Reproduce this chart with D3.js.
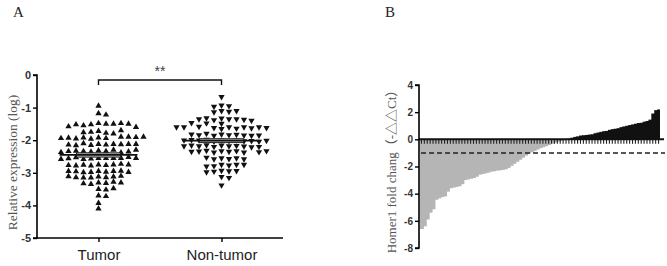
<!DOCTYPE html>
<html>
<head>
<meta charset="utf-8">
<script src="https://cdn.jsdelivr.net/npm/d3@7"></script>
<style>
body { margin: 0; background: #fff; }
</style>
</head>
<body>
<svg id="chart" width="667" height="266"></svg>
<script>
// ---- data ----
const groups = ["Tumor", "Non-tumor"];
const yTicksA = [0, -1, -2, -3, -4, -5];

const tumorValues = [
    -0.95,
    -1.18, -1.22,
    -1.48, -1.5, -1.52, -1.5, -1.55, -1.48, -1.52, -1.5, -1.58, -1.6,
    -1.72, -1.78, -1.75, -1.8, -1.76, -1.7,
    -1.92, -1.94, -1.9, -1.96, -1.92, -1.95, -1.9, -1.93, -1.91, -1.94, -1.9,
    -2.12, -2.14, -2.15, -2.12, -2.1, -2.13, -2.16, -2.12, -2.14, -2.12,
    -2.32, -2.34, -2.36, -2.3, -2.34, -2.38, -2.33, -2.35, -2.34, -2.3, -2.37,
    -2.55, -2.55, -2.57, -2.55, -2.58, -2.53, -2.55, -2.52, -2.56, -2.55, -2.58,
    -2.75, -2.77, -2.78, -2.75, -2.76, -2.73, -2.78, -2.75, -2.77,
    -2.95, -2.97, -2.98, -2.95, -2.99, -2.94, -2.96, -2.98, -2.95,
    -3.12, -3.14, -3.1, -3.15, -3.12, -3.14, -3.11, -3.15,
    -3.3, -3.32, -3.35, -3.28, -3.3, -3.33,
    -3.5, -3.52, -3.48,
    -3.7, -3.72,
    -3.93,
    -4.1
];

const nonTumorValues = [
    -0.67,
    -0.93, -0.95, -0.97,
    -1.1, -1.12, -1.14, -1.1,
    -1.33, -1.35, -1.38, -1.35, -1.32, -1.37, -1.35, -1.4,
    -1.48, -1.47, -1.49,
    -1.6, -1.62, -1.64, -1.6, -1.58, -1.63, -1.6, -1.65, -1.6, -1.62, -1.6,
    -1.82, -1.84, -1.86, -1.83, -1.8, -1.85, -1.84, -1.86, -1.82, -1.85,
    -2.0, -2.02, -2.04, -2.0, -1.98, -2.03, -2.0, -2.02, -1.99, -2.0, -2.04, -2.01,
    -2.16, -2.18, -2.2, -2.17, -2.15, -2.19, -2.18, -2.21, -2.16, -2.18, -2.2,
    -2.33, -2.35, -2.37, -2.33, -2.32, -2.37, -2.34, -2.35, -2.33, -2.36,
    -2.55, -2.57, -2.58, -2.55, -2.53, -2.58,
    -2.75, -2.77, -2.79, -2.75, -2.8, -2.75,
    -2.93, -2.95, -2.96, -2.94, -2.98,
    -3.12, -3.15,
    -3.38
];

const yTicksB = [4, 2, 0, -2, -4, -6, -8];
const cutoffB = -1;
const foldNegative = [
    -6.6, -6.4, -5.9, -5.4, -5.15, -4.45, -4.35, -4.25, -4.2, -3.85,
    -3.6, -3.55, -3.5, -3.45, -3.3, -3.0, -2.95, -2.9, -2.85, -2.75,
    -2.6, -2.55, -2.5, -2.45, -2.38, -2.35, -2.3, -2.28, -2.25, -2.2,
    -2.1, -1.95, -1.8, -1.65, -1.5, -1.35, -1.2, -1.05, -0.95, -0.85,
    -0.75, -0.65, -0.58, -0.5, -0.42, -0.32, -0.25, -0.18, -0.12, -0.06,
    -0.02
];
const foldPositive = [
    0.05, 0.12, 0.18, 0.22, 0.28, 0.3, 0.32, 0.35, 0.37, 0.45,
    0.5, 0.55, 0.6, 0.62, 0.7, 0.75, 0.78, 0.82, 0.9, 0.95,
    1.0, 1.05, 1.1, 1.15, 1.2, 1.22, 1.3, 1.35, 1.45, 1.9,
    2.15, 2.2
];

const svg = d3.select("#chart");
const tickFont = "Liberation Sans, Arial, sans-serif";
const serifFont = "Liberation Serif, Times New Roman, serif";

// ---- panel A ----
const dimA = { left: 37, right: 283, top: 75, bottom: 238 };

const xA = d3.scalePoint()
    .domain(groups)
    .range([dimA.left, dimA.right])
    .padding(0.5);

const yA = d3.scaleLinear()
    .domain([-5, 0])
    .range([dimA.bottom, dimA.top]);

const gA = svg.append("g");

gA.append("text")
    .attr("x", 13).attr("y", 17)
    .attr("font-family", serifFont).attr("font-size", 15)
    .attr("fill", "#222")
    .text("A");

const axisLeftA = gA.append("g")
    .attr("transform", `translate(${dimA.left},0)`)
    .call(d3.axisLeft(yA).tickValues(yTicksA).tickSize(4).tickPadding(2).tickFormat(d => String(d)));
axisLeftA.select(".domain").attr("stroke-width", 1.6).attr("d", `M-4,${dimA.top}H0V${dimA.bottom}H-4`);
axisLeftA.selectAll("text")
    .attr("font-family", tickFont).attr("font-size", 11).attr("font-weight", "bold").attr("fill", "#333");
axisLeftA.selectAll("line").attr("stroke-width", 1.4);

const axisBottomA = gA.append("g")
    .attr("transform", `translate(0,${dimA.bottom})`)
    .call(d3.axisBottom(xA).tickSize(4).tickPadding(7));
axisBottomA.select(".domain").attr("stroke-width", 1.6).attr("d", `M${dimA.left},0H${dimA.right}`);
axisBottomA.selectAll("text")
    .attr("font-family", tickFont).attr("font-size", 15).attr("fill", "#222");
axisBottomA.selectAll("line").attr("stroke-width", 1.4);

gA.append("text")
    .attr("transform", `translate(17,${(dimA.top + dimA.bottom) / 2 + 6}) rotate(-90)`)
    .attr("text-anchor", "middle")
    .attr("font-family", serifFont).attr("font-size", 13.5)
    .attr("fill", "#555")
    .text("Relative expression (log)");

// beeswarm: each point goes to the nearest free slot around the group centre
function swarm(values, cx) {
    const placed = [];
    const w = 7, h = 5.0, step = 3.75;
    values.forEach(v => {
        const y = yA(v);
        for (let k = 0; k < 200; k++) {
            const off = (k % 2 ? 1 : -1) * Math.ceil(k / 2) * step;
            const x = cx + off;
            const hit = placed.some(p => Math.abs(p.x - x) < w && Math.abs(p.y - y) < h);
            if (!hit) { placed.push({ x, y, v }); break; }
        }
    });
    return placed;
}

const sets = [
    { name: "Tumor", values: tumorValues, rot: 0 },
    { name: "Non-tumor", values: nonTumorValues, rot: 180 }
];

const tri = d3.symbol(d3.symbolTriangle, 17);

sets.forEach(s => {
    const cx = xA(s.name);
    const pts = swarm(s.values, cx);
    gA.append("g").selectAll("path")
        .data(pts)
        .join("path")
        .attr("d", tri)
        .attr("transform", d => `translate(${d.x},${d.y}) rotate(${s.rot})`)
        .attr("fill", "#111");

    const mean = d3.mean(s.values);
    const sem = d3.deviation(s.values) / Math.sqrt(s.values.length);
    gA.append("rect")
        .attr("x", cx - 22).attr("width", 44)
        .attr("y", yA(mean + sem)).attr("height", yA(mean - sem) - yA(mean + sem))
        .attr("fill", "#bbb").attr("stroke", "#222").attr("stroke-width", 1);
    gA.append("line")
        .attr("x1", cx - 39).attr("x2", cx + 39)
        .attr("y1", yA(mean)).attr("y2", yA(mean))
        .attr("stroke", "#111").attr("stroke-width", 1.8);
});

// significance bracket
const bracketY = 80;
gA.append("path")
    .attr("d", `M${xA("Tumor")},${bracketY + 5}V${bracketY}H${xA("Non-tumor")}V${bracketY + 5}`)
    .attr("fill", "none").attr("stroke", "#111").attr("stroke-width", 1.4);
gA.append("text")
    .attr("x", (xA("Tumor") + xA("Non-tumor")) / 2).attr("y", 76)
    .attr("text-anchor", "middle")
    .attr("font-family", tickFont).attr("font-size", 14)
    .attr("fill", "#444")
    .text("**");

// ---- panel B ----
const dimB = { left: 419, right: 664, top: 85, bottom: 248 };
const foldValues = foldNegative.concat(foldPositive);

const xB = d3.scaleBand()
    .domain(d3.range(foldValues.length))
    .range([dimB.left + 1, 660])
    .padding(0);

const yB = d3.scaleLinear()
    .domain([-8, 4])
    .range([dimB.bottom, dimB.top]);

const gB = svg.append("g");

gB.append("text")
    .attr("x", 385).attr("y", 17)
    .attr("font-family", serifFont).attr("font-size", 15)
    .attr("fill", "#222")
    .text("B");

// bars overlap a little so no hairline gaps show between neighbours
gB.append("g").selectAll("rect")
    .data(foldValues)
    .join("rect")
    .attr("x", (d, i) => xB(i))
    .attr("width", (d, i) => i === foldValues.length - 1 ? xB.bandwidth() : xB.bandwidth() + 1)
    .attr("y", d => Math.min(yB(d), yB(0)))
    .attr("height", d => Math.abs(yB(d) - yB(0)))
    .attr("fill", d => d < 0 ? "#b5b5b5" : "#111");

// small ticks under the zero line, one per sample
gB.append("g").selectAll("line")
    .data(foldValues)
    .join("line")
    .attr("x1", (d, i) => xB(i) + xB.bandwidth() / 2)
    .attr("x2", (d, i) => xB(i) + xB.bandwidth() / 2)
    .attr("y1", yB(0)).attr("y2", yB(0) + 4.5)
    .attr("stroke", "#222").attr("stroke-width", 1.1);

gB.append("line")
    .attr("x1", dimB.left + 2).attr("x2", dimB.right + 1)
    .attr("y1", yB(cutoffB)).attr("y2", yB(cutoffB))
    .attr("stroke", "#222").attr("stroke-width", 1.5)
    .attr("stroke-dasharray", "5,3");

gB.append("line")
    .attr("x1", dimB.left).attr("x2", dimB.right)
    .attr("y1", yB(0)).attr("y2", yB(0))
    .attr("stroke", "#111").attr("stroke-width", 2);

const axisLeftB = gB.append("g")
    .attr("transform", `translate(${dimB.left},0)`)
    .call(d3.axisLeft(yB).tickValues(yTicksB).tickSize(4).tickPadding(2).tickFormat(d => String(d)));
axisLeftB.select(".domain").attr("stroke-width", 1.6).attr("d", `M-4,${dimB.top}H0V${dimB.bottom}H-4`);
axisLeftB.selectAll("text")
    .attr("font-family", tickFont).attr("font-size", 10).attr("font-weight", "bold").attr("fill", "#333");
axisLeftB.selectAll("line").attr("stroke-width", 1.4);

gB.append("text")
    .attr("transform", `translate(396,${(dimB.top + dimB.bottom) / 2 + 2}) rotate(-90)`)
    .attr("text-anchor", "middle")
    .attr("font-family", serifFont + ", Noto Sans CJK SC").attr("font-size", 13)
    .attr("fill", "#555")
    .text("Homer1 fold chang（-△△Ct）");
</script>
</body>
</html>
